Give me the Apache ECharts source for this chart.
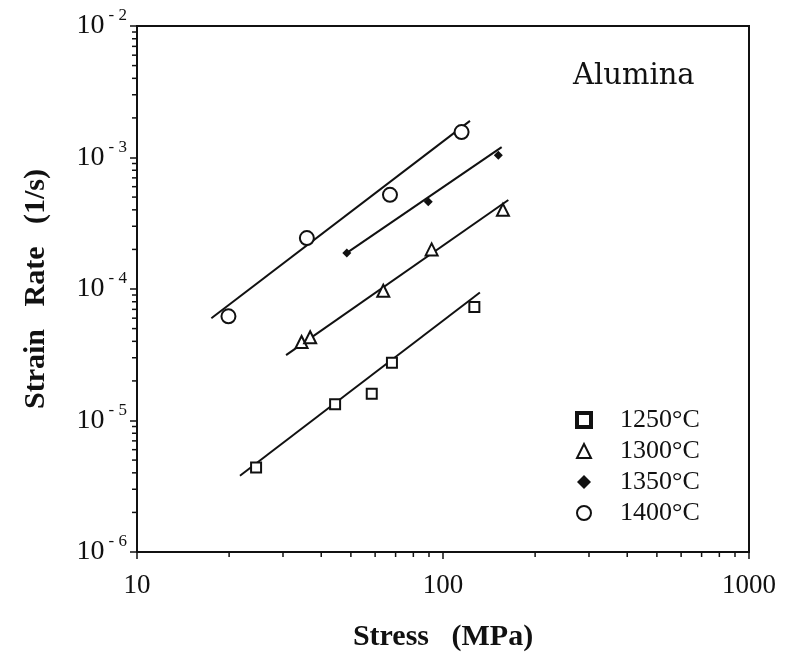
<!DOCTYPE html>
<html>
<head>
<meta charset="utf-8">
<script src="https://cdn.jsdelivr.net/npm/echarts@6/dist/echarts.min.js"></script>
<style>
  html, body { margin: 0; padding: 0; background: #fff; }
  #chart { width: 786px; height: 657px; }
</style>
</head>
<body>
<div id="chart"></div>
<script>
// Creep data for alumina: stress (MPa) vs strain rate (1/s)
const stress1250 = [24.5, 44.4, 58.5, 68.1, 126.6];
const rate1250   = [4.4e-6, 1.33e-5, 1.6e-5, 2.75e-5, 7.3e-5];
const stress1300 = [34.5, 36.8, 63.8, 91.8, 157];
const rate1300   = [3.95e-5, 4.3e-5, 9.7e-5, 2.0e-4, 4.0e-4];
const stress1350 = [48.5, 89.5, 151.6];
const rate1350   = [1.88e-4, 4.6e-4, 1.04e-3];
const stress1400 = [19.9, 35.9, 67.1, 115];
const rate1400   = [6.2e-5, 2.44e-4, 5.2e-4, 1.56e-3];

// Power-law fit lines (end points)
const fitStress1250 = [21.7, 132];
const fitRate1250   = [3.8e-6, 9.4e-5];
const fitStress1300 = [30.7, 163.5];
const fitRate1300   = [3.14e-5, 4.75e-4];
const fitStress1350 = [48.5, 155.5];
const fitRate1350   = [1.88e-4, 1.2e-3];
const fitStress1400 = [17.5, 122.5];
const fitRate1400   = [6.0e-5, 1.9e-3];

const seriesNames = ['1250°C', '1300°C', '1350°C', '1400°C'];
const xTickLabels = ['10', '100', '1000'];
const yExponents = [-6, -5, -4, -3, -2];

const X_MIN = 10, X_MAX = 1000, Y_MIN = 1e-6, Y_MAX = 1e-2;

const zip = (a, b) => a.map((v, i) => [v, b[i]]);

// minor tick positions (2..9 within each decade)
function minorValues(lo, hi) {
  const out = [];
  for (let d = lo; d < hi; d *= 10) {
    for (let k = 2; k <= 9; k++) out.push(d * k);
  }
  return out;
}
const xMinor = minorValues(X_MIN, X_MAX).map(v => [v, Y_MIN]);
const yMinor = minorValues(Y_MIN, Y_MAX).map(v => [X_MIN, v]);

const serif = "'Liberation Serif', 'Times New Roman', serif";
const ink = '#111';

function tickSeries(name, data, horizontal) {
  return {
    name: name,
    type: 'custom',
    silent: true,
    clip: false,
    z: 5,
    data: data,
    renderItem: function (params, api) {
      const p = api.coord([api.value(0), api.value(1)]);
      const shape = horizontal
        ? { x1: p[0], y1: p[1], x2: p[0], y2: p[1] + 5 }
        : { x1: p[0], y1: p[1], x2: p[0] - 5, y2: p[1] };
      return { type: 'line', shape: shape, style: { stroke: ink, lineWidth: 1.5 } };
    }
  };
}

function fitSeries(name, xs, ys) {
  return {
    name: name,
    type: 'line',
    data: zip(xs, ys),
    symbol: 'none',
    silent: true,
    lineStyle: { color: ink, width: 2 },
    z: 2
  };
}

const openMarker = { color: '#fff', borderColor: ink, borderWidth: 2, opacity: 1 };

const option = {
  backgroundColor: '#fff',
  animation: false,
  grid: {
    left: 137, right: 37, top: 26, bottom: 100,
    show: true, borderColor: ink, borderWidth: 2, backgroundColor: 'transparent'
  },
  xAxis: {
    type: 'log', logBase: 10, min: X_MIN, max: X_MAX,
    name: 'Stress   (MPa)',
    nameLocation: 'middle', nameGap: 70,
    nameTextStyle: { fontFamily: serif, fontWeight: 'bold', fontSize: 30, color: ink },
    axisLine: { show: true, lineStyle: { color: ink, width: 2 } },
    axisTick: { show: true, inside: false, length: 7, lineStyle: { color: ink, width: 1.5 } },
    splitLine: { show: false },
    axisLabel: {
      fontFamily: serif, fontSize: 27, color: ink, margin: 20,
      showMinLabel: true, showMaxLabel: true,
      formatter: function (v) {
        const i = Math.round(Math.log10(v)) - 1;
        return xTickLabels[i] !== undefined ? xTickLabels[i] : '';
      }
    }
  },
  yAxis: {
    type: 'log', logBase: 10, min: Y_MIN, max: Y_MAX,
    name: 'Strain   Rate   (1/s)',
    nameLocation: 'middle', nameGap: 86, nameRotate: 90,
    nameTextStyle: { fontFamily: serif, fontWeight: 'bold', fontSize: 30, color: ink },
    axisLine: { show: true, lineStyle: { color: ink, width: 2 } },
    axisTick: { show: true, inside: false, length: 7, lineStyle: { color: ink, width: 1.5 } },
    splitLine: { show: false },
    axisLabel: {
      margin: 10,
      showMinLabel: true, showMaxLabel: true,
      formatter: function (v) {
        const e = Math.round(Math.log10(v));
        if (yExponents.indexOf(e) < 0) return '';
        return '{b|10}{s|- ' + (-e) + '}';
      },
      rich: {
        b: { fontFamily: serif, fontSize: 28, color: ink },
        s: { fontFamily: serif, fontSize: 17, color: ink, padding: [0, 0, 20, 4] }
      }
    }
  },
  legend: {
    data: seriesNames.map((n, i) => i === 0
      ? { name: n, itemStyle: { color: '#fff', borderColor: ink, borderWidth: 4 } }
      : { name: n }),
    orient: 'vertical',
    left: 570, top: 402,
    itemWidth: 14, itemHeight: 14, itemGap: 5,
    selectedMode: false,
    textStyle: { fontFamily: serif, fontSize: 26, color: ink, lineHeight: 26, padding: [0, 0, 0, 24] }
  },
  graphic: [{
    type: 'text', left: 573, top: 62,
    style: { text: 'Alumina', fontFamily: "'DejaVu Serif', serif", fontSize: 29, fill: ink }
  }],
  series: [
    fitSeries('fit1250', fitStress1250, fitRate1250),
    fitSeries('fit1300', fitStress1300, fitRate1300),
    fitSeries('fit1350', fitStress1350, fitRate1350),
    fitSeries('fit1400', fitStress1400, fitRate1400),
    {
      name: seriesNames[0], type: 'scatter', data: zip(stress1250, rate1250),
      symbol: 'rect', symbolSize: 10, itemStyle: openMarker, z: 3
    },
    {
      name: seriesNames[1], type: 'scatter', data: zip(stress1300, rate1300),
      symbol: 'triangle', symbolSize: [12, 12], itemStyle: openMarker, z: 3
    },
    {
      name: seriesNames[2], type: 'scatter', data: zip(stress1350, rate1350),
      symbol: 'diamond', symbolSize: 9, itemStyle: { color: ink, opacity: 1 }, z: 3
    },
    {
      name: seriesNames[3], type: 'scatter', data: zip(stress1400, rate1400),
      symbol: 'circle', symbolSize: 14, itemStyle: openMarker, z: 3
    },
    tickSeries('xMinorTicks', xMinor, true),
    tickSeries('yMinorTicks', yMinor, false)
  ]
};

const chart = echarts.init(document.getElementById('chart'), null, { renderer: 'canvas' });
chart.setOption(option);
</script>
</body>
</html>
